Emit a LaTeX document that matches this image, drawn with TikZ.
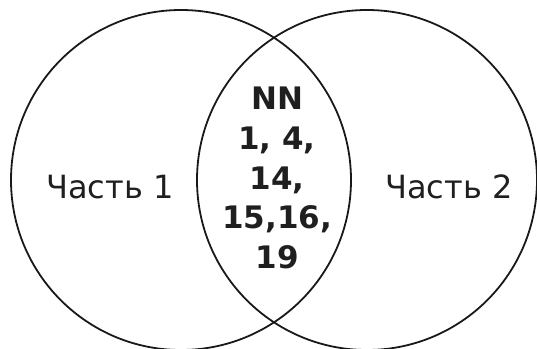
\documentclass[tikz,border=0pt]{standalone}
\usepackage{fontspec}
\setmainfont{DejaVu Sans}
\usetikzlibrary{positioning}

\begin{document}
\begin{tikzpicture}[
        x=1pt, y=-1pt,
        setcircle/.style={
            circle,
            draw=black!90,
            line width=1.8pt,
            minimum size=340pt,
            inner sep=0pt
        },
        partlabel/.style={
            anchor=base,
            inner sep=0pt,
            text=black!88,
            font=\fontsize{32}{38}\selectfont
        },
        commonlabel/.style={
            align=center,
            inner sep=0pt,
            text=black!88,
            font=\fontsize{31}{39.7}\selectfont\bfseries
        }
    ]
    \useasboundingbox (0,0) rectangle (537,348);

    % --- Circles ---
    \node[setcircle] (left) at (181,180) {};
    \node[setcircle] (right) at (367,180) {};

    % --- Labels ---
    \node[partlabel] (part1) at (110,198.6) {Часть 1};
    \node[partlabel] (part2) at (449,198.6) {Часть 2};
    \node[commonlabel] (common) at (277,178) {NN\\1, 4,\\14,\\15,16,\\19};

\end{tikzpicture}
\end{document}
